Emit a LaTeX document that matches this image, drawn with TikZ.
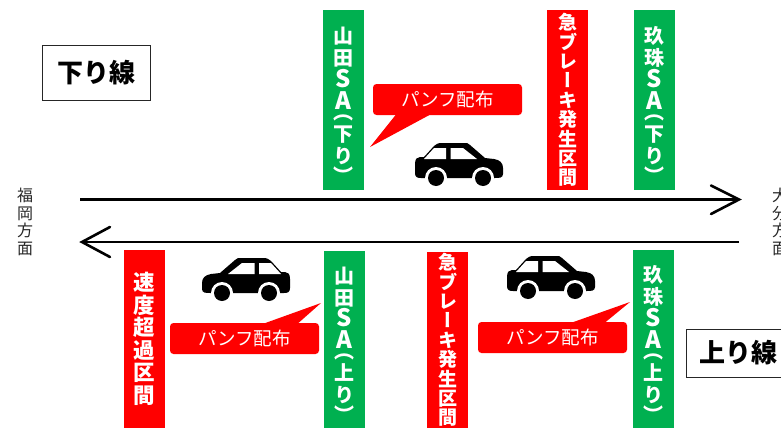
\documentclass[tikz,border=0pt]{standalone}
\usepackage{fontspec}
\newfontfamily\jpfont[RawFeature=+vert]{Noto Sans CJK JP}
\newfontfamily\jpplain{Noto Sans CJK JP}
\newcommand{\latin}[1]{{\fontsize{24}{21}\selectfont #1}}
\newcommand{\sastack}[3]{\rule{0pt}{27pt}#1\\#2\\\latin{S}\\\latin{A}\\[-11.5pt]（\\#3\\り\\[-1.5pt]）}
\definecolor{sagreen}{RGB}{0,176,80}
\begin{document}
\begin{tikzpicture}[x=1pt,y=-1pt,
     post/.style = {rectangle, inner sep=0pt, minimum width=41pt, text=white, align=center},
     sapost/.style = {post, fill=sagreen, font=\jpfont\bfseries\fontsize{20}{21.8}\selectfont},
     brakepost/.style = {post, fill=red, font=\jpfont\bfseries\fontsize{19}{19.4}\selectfont},
     speedpost/.style = {post, fill=red, font=\jpfont\bfseries\fontsize{21.5}{22.5}\selectfont},
     bubble/.style = {rectangle, rounded corners=3.5pt, fill=red, text=white, inner sep=0pt,
      minimum width=149pt, minimum height=31pt, font=\jpplain\fontsize{18.5}{18.5}\selectfont},
     linebox/.style = {draw=black!85, rectangle, line width=1pt, inner sep=0pt, minimum height=50pt,
      font=\jpplain\bfseries\fontsize{26}{26}\selectfont},
     place/.style = {inner sep=0pt, align=center, text=black!85, font=\jpplain\fontsize{16}{17.5}\selectfont},
     road/.style = {line width=2.6pt, black},
     barb/.style = {line width=2.6pt, black, line cap=round, line join=miter},
     car/.pic = {
      \fill[black] (0,22) .. controls (0,17) and (2,15) .. (5,15) -- (9,15)
        -- (19,4) .. controls (21,2) and (23,1) .. (27,1) -- (49,1)
        .. controls (52,1) and (53,1) .. (55,3) -- (70,16) -- (79,17)
        .. controls (85,18) and (88,21) .. (88,26) -- (88,32)
        .. controls (88,36) and (84,36) .. (80,36) -- (6,36)
        .. controls (2,36) and (0,35) .. (0,31) -- cycle;
      \fill[white] (9,17) -- (19,6) -- (31,6) -- (31,17) -- cycle;
      \fill[white] (35.5,6) -- (48,6) -- (62,17) -- (35.5,17) -- cycle;
      \fill[white] (21,36) circle (11) (68,36) circle (11);
      \fill[black] (21,36) circle (8) (68,36) circle (8);
     }
    ]
    \clip (0,0) rectangle (781,428);

    \node [linebox, minimum width=108pt, minimum height=54pt] (down) at (96,73) {下り線};
    \node [linebox, minimum width=120pt, minimum height=48pt, anchor=west, text width=120pt, align=left] (up) at (686,353) {\hspace{13pt}上り線};

    \node [sapost, minimum height=180pt] (yamadadown) at (343.5,100) {\sastack{山}{田}{下}};
    \node [brakepost, minimum height=180pt] (brakedown) at (567.5,100) {急\\ブ\\レ\\ー\\キ\\発\\生\\区\\間};
    \node [sapost, minimum height=180pt] (kusudown) at (654.5,100) {\sastack{玖}{珠}{下}};

    \node [speedpost, minimum height=178pt] (speed) at (144.5,339) {速\\度\\超\\過\\区\\間};
    \node [sapost, minimum height=177pt] (yamadaup) at (344.5,339.5) {\sastack{山}{田}{上}};
    \node [brakepost, minimum height=176pt] (brakeup) at (447.5,340) {急\\ブ\\レ\\ー\\キ\\発\\生\\区\\間};
    \node [sapost, minimum height=178pt] (kusuup) at (653.5,339) {\sastack{玖}{珠}{上}};

    \node [place] (fukuoka) at (25,222) {福\\岡\\方\\面};
    \node [place] (oita) at (780,222) {大\\分\\方\\面};

    \coordinate (downstart) at (80,199.5);
    \coordinate (downend) at (739,199.5);
    \coordinate (upstart) at (739,242);
    \coordinate (upend) at (82,242);
    \draw[road] (downstart) -- (downend);
    \draw[road] (upstart) -- (upend);
    \draw[barb] (711,185.5) -- (downend) -- (711,214);
    \draw[barb] (110,227) -- (upend) -- (110,257);

    \node [bubble] (pamphdown) at (447.5,99.5) {パンフ配布};
    \node [bubble] (pamphleft) at (244.5,338.5) {パンフ配布};
    \node [bubble] (pamphright) at (552.5,337.5) {パンフ配布};
    \coordinate (tipdown) at (370,147);
    \coordinate (tipleft) at (321,303);
    \coordinate (tipright) at (630,302);
    \fill[red] (398,112) -- (tipdown) -- (435,112) -- cycle;
    \fill[red] (257,326) -- (tipleft) -- (295,326) -- cycle;
    \fill[red] (565,325) -- (tipright) -- (602,325) -- cycle;

    \pic at (415,142) {car};
    \pic[xscale=-1] at (290,257) {car};
    \pic at (507,255) {car};
\end{tikzpicture}
\end{document}
